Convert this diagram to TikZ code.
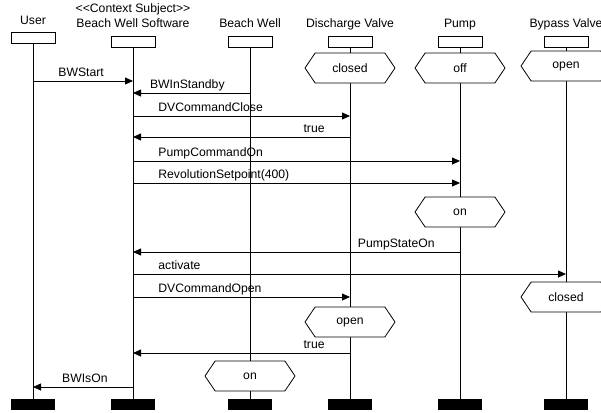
\documentclass[tikz,border=0pt]{standalone}
\usepackage{fontspec}
\setmainfont{Liberation Sans}
\usetikzlibrary{arrows.meta,shapes.symbols}

\tikzset{
  head/.style = {draw, fill=white, minimum width=44pt, minimum height=11pt, inner sep=0pt},
  foot/.style = {fill=black, minimum width=44pt, minimum height=11pt, inner sep=0pt},
  state/.style = {draw, fill=white, shape=signal, signal to=east and west,
    signal pointer angle=112, minimum width=90pt, minimum height=30pt, inner sep=0pt},
  msg/.style = {-{Triangle[length=8pt,width=7pt]}},
  lblr/.style = {anchor=base west, xshift=25pt, yshift=5pt, inner sep=0pt},
  lbll/.style = {anchor=base east, xshift=-25pt, yshift=5pt, inner sep=0pt}
}

\begin{document}
\begin{tikzpicture}[x=1pt, y=-1pt, line width=0.8pt,
  font=\fontsize{12.2}{14}\selectfont]
  \useasboundingbox (0,0) rectangle (601,412);

  % lifeline heads
  \node[head] (user) at (33,37.5) {};
  \node[head] (bws)  at (133,42) {};
  \node[head] (bw)   at (250,42) {};
  \node[head] (dv)   at (350,42) {};
  \node[head] (pump) at (460,42) {};
  \node[head] (bpv)  at (566,42) {};

  \node[anchor=base] (userlbl) at (33,25) {User};
  \node[anchor=base] (ctxlbl)  at (133,13) {<\kern0pt<Context Subject>\kern0pt>};
  \node[anchor=base] (bwslbl)  at (133,28) {Beach Well Software};
  \node[anchor=base] (bwlbl)   at (250,28) {Beach Well};
  \node[anchor=base] (dvlbl)   at (350,28) {Discharge Valve};
  \node[anchor=base] (pumplbl) at (460,28) {Pump};
  \node[anchor=base] (bpvlbl)  at (566,28) {Bypass Valve};

  % lifeline ends
  \node[foot] (userend) at (33,404.5) {};
  \node[foot] (bwsend)  at (133,404.5) {};
  \node[foot] (bwend)   at (250,404.5) {};
  \node[foot] (dvend)   at (350,404.5) {};
  \node[foot] (pumpend) at (460,404.5) {};
  \node[foot] (bpvend)  at (566,404.5) {};

  \foreach \l in {user,bws,bw,dv,pump,bpv}
    \draw (\l.south) -- (\l end.north);

  % states
  \node[state] (dvclosed)  at (350,68)  {closed};
  \node[state] (pumpoff)   at (460,68)  {off};
  \node[state] (bpvopen)   at (566,66)  {open};
  \node[state] (pumpon)    at (460,212) {on};
  \node[state] (bpvclosed) at (566,297) {closed};
  \node[state] (dvopen)    at (350,322) {open};
  \node[state] (bwon)      at (250,376) {on};

  % messages
  \coordinate (m1) at (0,81);
  \coordinate (m2) at (0,93);
  \coordinate (m3) at (0,116);
  \coordinate (m4) at (0,137);
  \coordinate (m5) at (0,161);
  \coordinate (m6) at (0,183);
  \coordinate (m7) at (0,252);
  \coordinate (m8) at (0,274);
  \coordinate (m9) at (0,297);
  \coordinate (m10) at (0,353);
  \coordinate (m11) at (0,387);

  \draw[msg] (user |- m1) -- (bws |- m1) node[pos=0, lblr] {BWStart};
  \draw[msg] (bw |- m2) -- (bws |- m2) node[pos=0, lbll] {BWInStandby};
  \draw[msg] (bws |- m3) -- (dv |- m3) node[pos=0, lblr] {DVCommandClose};
  \draw[msg] (dv |- m4) -- (bws |- m4) node[pos=0, lbll] {true};
  \draw[msg] (bws |- m5) -- (pump |- m5) node[pos=0, lblr] {PumpCommandOn};
  \draw[msg] (bws |- m6) -- (pump |- m6) node[pos=0, lblr] {RevolutionSetpoint(400)};
  \draw[msg] (pump |- m7) -- (bws |- m7) node[pos=0, lbll] {PumpStateOn};
  \draw[msg] (bws |- m8) -- (bpv |- m8) node[pos=0, lblr] {activate};
  \draw[msg] (bws |- m9) -- (dv |- m9) node[pos=0, lblr] {DVCommandOpen};
  \draw[msg] (dv |- m10) -- (bws |- m10) node[pos=0, lbll] {true};
  \draw[msg] (bws |- m11) -- (user |- m11) node[pos=0, lbll] {BWIsOn};
\end{tikzpicture}
\end{document}
